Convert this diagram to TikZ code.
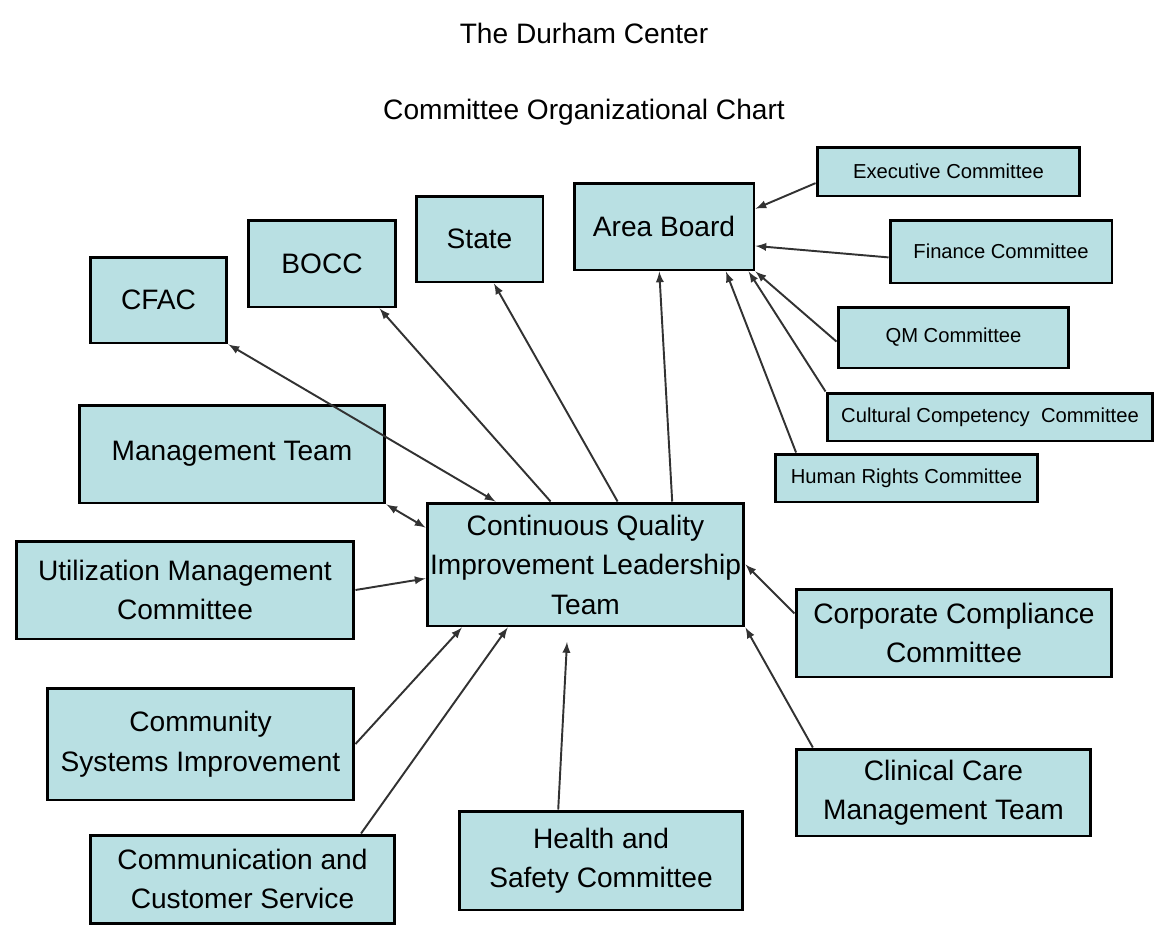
\documentclass[tikz,border=0pt]{standalone}
\usepackage{fontspec}
\setmainfont{Liberation Sans}

\definecolor{boxfill}{RGB}{185,224,227}
\definecolor{linkgray}{RGB}{50,50,50}

\tikzset{
    box/.style={draw, line width=1.7pt, fill=boxfill, inner sep=0pt, align=center,
        font=\fontsize{16}{22.5}\selectfont},
    smallbox/.style={box, font=\fontsize{11.5}{14}\selectfont},
    link/.style={-latex, line width=1.1pt, draw=linkgray},
    twoway/.style={latex-latex, line width=1.1pt, draw=linkgray}
}

\begin{document}
\begin{tikzpicture}[x=0.02cm, y=-0.02cm]
    \useasboundingbox (0,0) rectangle (1159,930);

    % Title lines
    \node[font=\fontsize{16}{20}\selectfont] (title) at (584,33) {The Durham Center};
    \node[font=\fontsize{16}{20}\selectfont] (subtitle) at (584,112) {Committee Organizational Chart};

    % Central team
    \node[box, minimum width=6.34cm, minimum height=2.46cm] (cqi) at (585.5,564.5)
        {Continuous Quality\\Improvement Leadership\\Team};

    % Boxes above the central team
    \node[box, minimum width=3.6cm, minimum height=1.74cm] (area) at (664,226.5) {Area Board};
    \node[box, minimum width=2.54cm, minimum height=1.72cm] (state) at (479.5,239) {State};
    \node[box, minimum width=2.96cm, minimum height=1.74cm] (bocc) at (322,263.5) {BOCC};
    \node[box, minimum width=2.74cm, minimum height=1.72cm] (cfac) at (158.5,300) {CFAC};

    % Committees reporting to the Area Board
    \node[smallbox, minimum width=5.26cm, minimum height=0.98cm] (exec) at (948.5,171.5) {Executive Committee};
    \node[smallbox, minimum width=4.44cm, minimum height=1.26cm] (finance) at (1001,251.5) {Finance Committee};
    \node[smallbox, minimum width=4.62cm, minimum height=1.22cm] (qm) at (953.5,337.5) {QM Committee};
    \node[smallbox, minimum width=6.52cm, minimum height=0.96cm] (cultural) at (990,417) {Cultural Competency~~Committee};
    \node[smallbox, minimum width=5.26cm, minimum height=0.96cm] (rights) at (906.5,478) {Human Rights Committee};

    % Boxes on the left
    \node[box, minimum width=6.12cm, minimum height=1.96cm] (mgmt) at (232,454) {Management Team};
    \node[box, minimum width=6.76cm, minimum height=1.96cm] (util) at (185,590) {Utilization Management\\Committee};
    \node[box, minimum width=6.14cm, minimum height=2.24cm] (csi) at (200.5,744) {Community\\Systems Improvement};
    \node[box, minimum width=6.1cm, minimum height=1.76cm] (ccs) at (242.5,879) {Communication and\\Customer Service};

    % Boxes below and on the right
    \node[box, minimum width=5.68cm, minimum height=1.98cm] (health) at (601,860.5) {Health and\\Safety Committee};
    \node[box, minimum width=6.32cm, minimum height=1.76cm] (corp) at (954,633) {Corporate Compliance\\Committee};
    \node[box, minimum width=5.9cm, minimum height=1.74cm] (clinical) at (943.5,792.5) {Clinical Care\\Management Team};
    \coordinate (healthend) at (567,642);

    % Arrows into the Area Board
    \draw[link] (exec.185) -- (area.11);
    \draw[link] (finance.183) -- (area.-12);
    \draw[link] (qm.182) -- (area.south east);
    \draw[link] (cultural.north west) -- (area.-28);
    \draw[link] (rights.167) -- (area.-36);
    \draw[link] (cqi.36) -- (area.-96);

    % Arrows from the central team upwards
    \draw[link] (cqi.63) -- (state.-72);
    \draw[link] (cqi.119) -- (bocc.-38);
    \draw[twoway] (cfac.south east) -- (cqi.145);
    \draw[twoway] (mgmt.south east) -- (cqi.167);

    % Arrows into the central team
    \draw[link] (util.east) -- (cqi.185);
    \draw[link] (csi.east) -- (cqi.207);
    \draw[link] (ccs.21) -- (cqi.219);
    \draw[link] (health.130) -- (healthend);
    \draw[link] (corp.173) -- (cqi.east);
    \draw[link] (clinical.161) -- (cqi.south east);
\end{tikzpicture}
\end{document}
